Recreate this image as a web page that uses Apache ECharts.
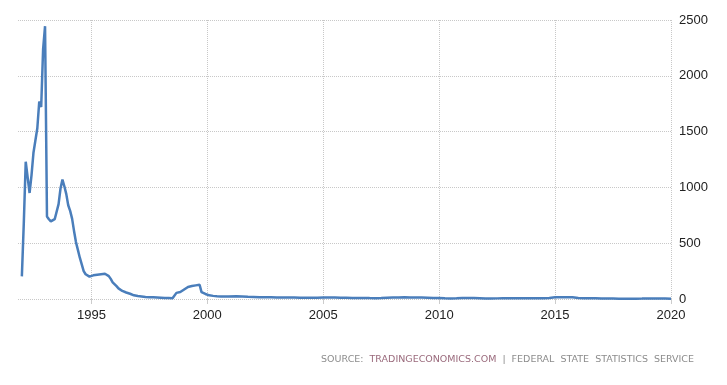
<!DOCTYPE html>
<html>
<head>
<meta charset="utf-8">
<script src="https://cdn.jsdelivr.net/npm/echarts@6/dist/echarts.min.js"></script>
<style>
html,body{margin:0;padding:0;background:#fff;}
#chart{width:727px;height:385px;}
</style>
</head>
<body>
<div id="chart"></div>
<script>
// Monthly observations, Jan 1992 - Dec 2000 (percent, YoY)
const monthlyStart = [1992, 1];
const monthlyValues = [
  203, 680, 1230, 1090, 950, 1110, 1310, 1420, 1530, 1770, 1720, 2240,
  2445, 740, 715, 695, 685, 715, 730, 850, 990, 1070, 1010, 940,
  840, 790, 720, 610, 510, 440, 370, 310, 250, 222, 205, 200,
  210, 212, 215, 218, 220, 222, 224, 226, 225, 205, 180, 150,
  135, 115, 95, 82, 72, 65, 58, 53, 47, 40, 33, 28,
  26, 24, 22, 20, 18, 17, 16, 15, 15, 14, 13, 12,
  11, 10, 9, 8, 8, 7, 6, 9, 55, 58, 62, 70,
  85, 100, 108, 112, 116, 119, 122, 125, 128, 62, 52, 45,
  38, 33, 30, 28, 26, 24, 23, 22, 22, 22, 23, 23
];
// Quarterly observations, 2001 - 2020
const quarterDates = [
  '2001-01','2001-04','2001-07','2001-10',
  '2002-01','2002-04','2002-07','2002-10',
  '2003-01','2003-04','2003-07','2003-10',
  '2004-01','2004-04','2004-07','2004-10',
  '2005-01','2005-04','2005-07','2005-10',
  '2006-01','2006-04','2006-07','2006-10',
  '2007-01','2007-04','2007-07','2007-10',
  '2008-01','2008-04','2008-07','2008-10',
  '2009-01','2009-04','2009-07','2009-10',
  '2010-01','2010-04','2010-07','2010-10',
  '2011-01','2011-04','2011-07','2011-10',
  '2012-01','2012-04','2012-07','2012-10',
  '2013-01','2013-04','2013-07','2013-10',
  '2014-01','2014-04','2014-07','2014-10',
  '2015-01','2015-04','2015-07','2015-10',
  '2016-01','2016-04','2016-07','2016-10',
  '2017-01','2017-04','2017-07','2017-10',
  '2018-01','2018-04','2018-07','2018-10',
  '2019-01','2019-04','2019-07','2019-10',
  '2020-01'
];
const quarterValues = [
  21.5, 23.7, 22.2, 19.8,
  18.8, 16.1, 14.8, 15.1,
  14.3, 14.5, 13.9, 13.3,
  11.3, 10.2, 10.4, 11.5,
  12.7, 13.5, 12.8, 11.7,
  10.7, 9.8, 9.3, 9.1,
  8.2, 7.6, 8.7, 10.8,
  12.6, 14.3, 15.0, 14.2,
  13.4, 13.2, 12.0, 9.7,
  8.0, 6.0, 5.5, 7.5,
  9.6, 9.6, 9.0, 7.2,
  4.2, 3.6, 5.6, 6.5,
  7.1, 7.2, 6.5, 6.3,
  6.1, 7.3, 7.5, 8.3,
  15.0, 16.4, 15.6, 15.6,
  9.8, 7.3, 7.2, 6.1,
  5.0, 4.1, 3.9, 2.7,
  2.2, 2.4, 2.5, 3.5,
  5.0, 5.2, 4.6, 3.8,
  2.4
];
const axisStart = [1991, 11];
const axisEnd = [2020, 1];
const yTicks = [0, 500, 1000, 1500, 2000, 2500];

function key(y, m) { return y + '-' + (m < 10 ? '0' + m : m); }

// categories: every month on the axis
const categories = [];
{
  let y = axisStart[0], m = axisStart[1];
  while (y < axisEnd[0] || (y === axisEnd[0] && m <= axisEnd[1])) {
    categories.push(key(y, m));
    m++; if (m > 12) { m = 1; y++; }
  }
}
// observation lookup
const obs = {};
{
  let y = monthlyStart[0], m = monthlyStart[1];
  monthlyValues.forEach(v => {
    obs[key(y, m)] = v;
    m++; if (m > 12) { m = 1; y++; }
  });
  quarterDates.forEach((d, i) => { obs[d] = quarterValues[i]; });
}
const seriesData = categories.map(c => (c in obs ? obs[c] : null));

function isMajor(index) {
  const c = categories[index];
  const y = parseInt(c.slice(0, 4), 10);
  return c.slice(5) === '01' && y % 5 === 0;
}

const chart = echarts.init(document.getElementById('chart'), null, { renderer: 'canvas' });
chart.setOption({
  animation: false,
  backgroundColor: '#ffffff',
  textStyle: { fontFamily: 'Liberation Sans, Arial, sans-serif' },
  title: {
    right: 28,
    top: 350,
    text: '{a|SOURCE:  }{b|TRADINGECONOMICS.COM}{a|  |  FEDERAL  STATE  STATISTICS  SERVICE}',
    textStyle: {
      fontWeight: 'normal',
      rich: {
        a: { fontFamily: 'DejaVu Sans', fontSize: 9.5, fontWeight: 'normal', color: '#8c8c8c' },
        b: { fontFamily: 'DejaVu Sans', fontSize: 9.5, fontWeight: 'normal', color: '#9a6a7c' }
      }
    }
  },
  grid: { left: 18, right: 56, top: 20, bottom: 86 },
  xAxis: {
    type: 'category',
    data: categories,
    boundaryGap: false,
    axisLine: { show: false },
    axisTick: {
      show: true,
      interval: isMajor,
      length: 5,
      lineStyle: { color: '#cccccc' }
    },
    axisLabel: {
      interval: isMajor,
      formatter: v => v.slice(0, 4),
      fontSize: 13,
      color: '#222222',
      margin: 10
    },
    splitLine: {
      show: true,
      interval: isMajor,
      lineStyle: { type: 'dotted', color: '#c8c8c8', width: 1 }
    }
  },
  yAxis: {
    type: 'value',
    position: 'right',
    min: yTicks[0],
    max: yTicks[yTicks.length - 1],
    interval: 500,
    axisLine: { show: false },
    axisTick: { show: false },
    axisLabel: { fontSize: 13, color: '#222222', margin: 8, formatter: v => String(v) },
    splitLine: { lineStyle: { type: 'dotted', color: '#c8c8c8', width: 1 } }
  },
  series: [{
    type: 'line',
    data: seriesData,
    connectNulls: true,
    showSymbol: false,
    symbol: 'none',
    lineStyle: { color: '#4a7ebb', width: 2.5 },
    itemStyle: { color: '#4a7ebb' }
  }]
});
</script>
</body>
</html>
